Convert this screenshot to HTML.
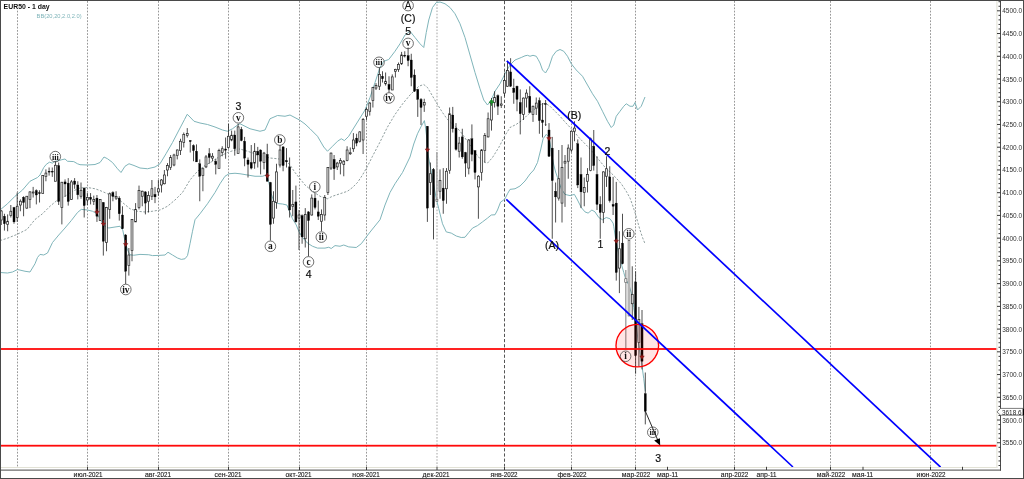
<!DOCTYPE html>
<html lang="ru"><head><meta charset="utf-8"><title>EUR50 - 1 day</title>
<style>html,body{margin:0;padding:0;background:#fff;overflow:hidden}body{width:1024px;height:479px;font-family:"Liberation Sans",sans-serif}svg text{white-space:pre}</style>
</head><body>
<svg width="1024" height="479" viewBox="0 0 1024 479" style="display:block">
<rect x="0" y="0" width="1024" height="479" fill="#ffffff"/>
<g stroke="#989898" stroke-width="1" stroke-dasharray="1.75 1.47" fill="none"><line x1="17.5" y1="1" x2="17.5" y2="466.5"/><line x1="87.5" y1="1" x2="87.5" y2="466.5"/><line x1="158.5" y1="1" x2="158.5" y2="466.5"/><line x1="228.5" y1="1" x2="228.5" y2="466.5"/><line x1="299.5" y1="1" x2="299.5" y2="466.5"/><line x1="366.5" y1="1" x2="366.5" y2="466.5"/><line x1="571.5" y1="1" x2="571.5" y2="466.5"/><line x1="635.5" y1="1" x2="635.5" y2="466.5"/><line x1="734.5" y1="1" x2="734.5" y2="466.5"/><line x1="830.5" y1="1" x2="830.5" y2="466.5"/><line x1="930.5" y1="1" x2="930.5" y2="466.5"/></g>
<line x1="504.5" y1="1" x2="504.5" y2="466.5" stroke="#555" stroke-width="1" stroke-dasharray="3.2 2"/>
<line x1="437" y1="1" x2="437" y2="466.5" stroke="#c4c4c4" stroke-width="1.5" stroke-dasharray="1.6 1.56"/>
<polyline points="0.00,210.00 7.50,203.75 15.00,196.25 22.50,190.00 30.00,181.25 37.50,177.50 40.00,175.00 43.75,167.50 46.25,164.40 49.40,162.20 52.50,163.10 55.00,161.25 58.75,160.60 61.90,159.70 65.00,159.00 67.50,161.25 73.75,161.60 77.50,163.75 80.00,164.70 87.50,165.00 95.00,164.50 100.00,162.50 104.00,157.00 107.50,158.75 112.50,162.50 117.50,168.75 121.00,172.50 125.00,166.25 129.00,163.75 134.00,165.50 140.00,168.00 147.50,168.75 155.00,167.00 160.00,163.75 166.00,153.75 172.50,142.50 179.00,130.00 184.50,119.50 187.20,114.30 190.00,117.00 194.00,121.25 200.00,123.00 207.50,124.50 215.00,127.00 222.50,130.00 227.50,131.25 232.50,128.75 237.50,125.00 240.00,123.75 250.00,128.75 260.00,131.25 265.00,130.00 270.00,118.75 277.50,115.50 285.00,116.25 290.00,115.00 299.50,120.00 305.00,124.00 310.00,128.75 317.50,136.25 323.75,147.00 327.50,151.25 332.50,146.25 337.50,141.25 341.25,138.75 344.40,140.60 348.75,136.25 352.50,130.00 358.75,120.00 362.50,114.00 365.00,110.00 370.00,97.50 375.00,82.50 380.00,67.50 383.75,61.25 388.75,59.50 395.00,51.25 400.00,43.75 405.00,35.00 410.00,31.25 415.00,37.50 420.00,43.75 423.75,47.50 426.25,32.50 428.75,20.00 432.50,7.50 436.25,2.50 440.00,2.00 445.00,3.75 450.00,7.50 455.00,13.75 460.00,23.75 465.00,37.50 470.00,55.00 475.00,72.50 480.00,88.75 483.75,100.00 487.50,105.00 491.25,100.00 495.00,91.25 500.00,83.75 505.00,73.75 510.00,65.00 515.00,60.00 521.25,57.50 525.00,55.80 527.50,55.30 530.00,56.25 533.00,55.30 536.25,56.25 538.10,59.40 540.00,63.00 542.50,70.00 545.50,73.00 548.75,67.50 552.50,56.25 556.25,51.25 560.00,49.50 563.75,51.25 567.50,56.25 571.25,63.75 576.25,70.00 582.50,76.25 587.50,85.00 592.50,93.75 597.50,101.25 602.50,111.25 607.50,121.25 611.25,127.50 613.75,125.00 616.25,116.25 620.00,111.25 623.75,106.25 626.25,103.75 630.00,106.25 633.00,106.25 635.00,102.50 637.50,110.00 641.25,106.25 645.00,97.00" fill="none" stroke="#80b5ba" stroke-width="1" stroke-linejoin="round"/>
<polyline points="0.00,272.50 7.50,273.00 12.50,272.00 17.50,269.50 25.00,271.25 30.00,272.00 35.00,263.75 37.50,257.50 40.00,254.40 43.75,255.00 47.50,253.00 52.50,242.50 58.75,235.00 65.00,228.00 71.25,220.60 77.50,212.50 81.25,209.40 87.50,210.00 92.50,211.25 97.00,213.75 100.00,218.75 103.75,225.50 108.75,228.00 115.00,227.00 120.00,226.25 122.75,230.00 125.00,241.25 127.50,250.00 130.00,254.75 133.75,255.25 140.00,254.40 148.75,254.75 152.50,255.60 158.75,255.40 165.00,255.00 168.00,252.25 172.50,255.00 177.50,258.00 181.25,259.40 185.00,258.75 187.50,255.60 190.00,243.75 192.50,231.25 195.00,219.75 200.00,213.75 207.50,203.75 215.00,192.50 220.00,183.75 225.00,176.25 229.00,173.75 235.00,173.25 240.00,173.75 247.50,175.00 255.00,176.25 262.50,176.25 266.25,175.00 268.75,182.00 271.25,193.75 273.75,201.25 277.50,203.50 282.50,204.00 286.90,205.00 289.40,211.25 292.50,218.75 296.25,225.00 298.75,231.25 302.50,237.50 307.50,243.10 312.50,246.25 317.50,248.10 325.00,248.10 328.75,247.25 331.25,248.50 335.00,245.60 340.00,246.25 343.75,245.00 348.75,246.90 356.25,247.50 361.25,243.75 365.00,238.75 367.75,235.00 372.50,229.00 380.00,219.75 385.00,205.00 390.00,192.50 395.00,183.75 402.50,172.50 410.00,157.00 413.75,144.00 417.50,133.75 421.25,126.25 424.40,120.60 425.60,128.00 426.90,138.75 428.10,154.90 430.00,165.00 433.75,185.00 436.25,198.75 438.75,208.75 442.50,223.75 446.25,231.90 451.25,233.10 456.25,236.00 461.25,237.50 465.00,237.25 468.75,232.50 472.50,228.10 477.50,225.60 482.50,221.90 487.50,218.10 491.25,215.00 495.00,214.75 497.50,210.00 500.60,202.00 503.75,200.00 505.00,198.75 507.50,193.75 510.00,189.40 515.00,188.75 520.00,186.00 525.00,181.00 530.00,174.00 533.75,170.00 537.50,162.50 540.60,150.00 543.10,138.75 546.25,134.40 548.10,136.25 550.00,142.50 551.90,155.00 553.75,165.00 555.60,172.00 557.50,177.50 561.25,188.75 565.00,194.40 570.00,195.60 574.40,194.40 577.50,200.00 581.25,207.50 585.00,211.90 588.10,213.10 591.90,210.00 595.00,211.90 598.75,217.50 602.50,219.75 606.25,217.50 610.00,218.75 613.10,223.10 613.75,226.25 615.60,238.75 618.10,251.25 621.25,263.75 623.75,272.50 625.60,278.75 629.40,286.25 631.90,295.00 633.75,307.50 635.60,320.00 638.00,340.00 641.90,365.00 643.75,378.75 645.25,391.25" fill="none" stroke="#80b5ba" stroke-width="1" stroke-linejoin="round"/>
<polyline points="0.00,240.60 8.00,238.00 17.00,234.40 27.00,229.40 35.00,219.50 42.50,213.75 50.00,206.25 57.50,200.00 65.00,196.25 72.50,191.25 80.00,188.00 87.50,187.50 95.00,188.75 100.00,190.50 107.50,193.75 115.00,196.25 122.50,202.50 130.00,208.75 137.50,211.25 145.00,212.00 152.50,211.25 160.00,210.00 167.50,206.25 175.00,200.00 182.50,192.50 190.00,180.00 197.50,171.25 205.00,165.50 212.50,161.25 220.00,156.25 227.50,152.50 235.00,150.00 240.00,149.00 247.50,151.25 255.00,153.75 262.50,156.25 270.00,158.00 277.50,158.75 285.00,160.00 290.00,165.00 295.00,172.50 300.00,178.75 305.00,185.00 312.50,191.25 320.00,196.25 327.50,198.75 332.50,196.25 340.00,193.75 347.50,191.25 352.50,187.50 357.50,182.50 362.50,175.00 367.50,166.25 372.50,156.25 380.00,142.00 387.50,127.00 395.00,114.50 402.50,104.00 410.00,95.00 418.75,86.25 423.75,84.50 427.50,87.50 432.50,96.00 437.50,104.50 442.50,112.50 447.50,119.50 452.50,124.00 460.00,131.00 467.50,141.50 475.00,152.50 480.00,158.75 485.00,162.50 487.50,163.10 492.50,157.50 498.75,147.50 505.00,135.60 510.00,127.50 516.25,124.40 522.50,120.00 527.50,115.00 532.50,111.25 537.50,106.25 542.50,103.75 546.25,103.75 550.00,106.25 555.00,111.25 560.00,116.25 565.00,122.00 572.50,130.00 580.00,138.75 587.50,146.25 595.00,155.00 600.00,161.25 606.25,168.75 611.25,173.10 616.25,178.10 621.25,183.75 626.25,191.25 630.00,198.10 632.50,205.00 635.00,212.50 637.50,221.25 640.00,230.00 642.50,237.50 644.75,243.10" fill="none" stroke="#7b8c8c" stroke-width="0.85" stroke-dasharray="2.2 1.6" stroke-linejoin="round"/>
<g stroke="#9a9a9a" stroke-width="1.3"><line x1="436.90" y1="152.00" x2="436.90" y2="201.50"/><line x1="625.80" y1="270.00" x2="625.80" y2="348.75"/></g>
<g stroke="#222" stroke-width="0.8"><line x1="1.25" y1="210.00" x2="1.25" y2="225.00"/><line x1="4.44" y1="213.75" x2="4.44" y2="230.60"/><line x1="7.63" y1="214.40" x2="7.63" y2="231.25"/><line x1="10.82" y1="205.00" x2="10.82" y2="217.50"/><line x1="14.01" y1="206.90" x2="14.01" y2="223.75"/><line x1="17.20" y1="192.50" x2="17.20" y2="221.90"/><line x1="20.39" y1="199.40" x2="20.39" y2="211.25"/><line x1="23.58" y1="196.25" x2="23.58" y2="216.25"/><line x1="26.77" y1="196.00" x2="26.77" y2="208.75"/><line x1="29.96" y1="191.25" x2="29.96" y2="208.10"/><line x1="33.15" y1="186.90" x2="33.15" y2="197.50"/><line x1="36.34" y1="189.40" x2="36.34" y2="204.40"/><line x1="39.53" y1="190.25" x2="39.53" y2="202.50"/><line x1="42.72" y1="175.00" x2="42.72" y2="193.50"/><line x1="45.91" y1="169.40" x2="45.91" y2="181.25"/><line x1="49.10" y1="167.50" x2="49.10" y2="175.60"/><line x1="52.29" y1="167.50" x2="52.29" y2="176.90"/><line x1="55.48" y1="161.25" x2="55.48" y2="181.25"/><line x1="58.67" y1="162.50" x2="58.67" y2="205.00"/><line x1="61.86" y1="181.90" x2="61.86" y2="224.40"/><line x1="65.05" y1="179.40" x2="65.05" y2="196.90"/><line x1="68.24" y1="178.10" x2="68.24" y2="205.60"/><line x1="71.43" y1="180.00" x2="71.43" y2="200.00"/><line x1="74.62" y1="178.10" x2="74.62" y2="188.75"/><line x1="77.81" y1="181.25" x2="77.81" y2="199.40"/><line x1="81.00" y1="182.50" x2="81.00" y2="198.75"/><line x1="84.19" y1="187.50" x2="84.19" y2="217.50"/><line x1="87.38" y1="193.00" x2="87.38" y2="205.00"/><line x1="90.57" y1="193.10" x2="90.57" y2="204.40"/><line x1="93.76" y1="195.60" x2="93.76" y2="205.00"/><line x1="96.95" y1="195.00" x2="96.95" y2="221.90"/><line x1="100.14" y1="199.00" x2="100.14" y2="221.00"/><line x1="103.33" y1="202.00" x2="103.33" y2="255.60"/><line x1="106.52" y1="206.90" x2="106.52" y2="251.25"/><line x1="109.71" y1="192.50" x2="109.71" y2="218.75"/><line x1="112.90" y1="191.25" x2="112.90" y2="201.25"/><line x1="116.09" y1="191.25" x2="116.09" y2="200.00"/><line x1="119.28" y1="196.25" x2="119.28" y2="220.60"/><line x1="122.47" y1="206.25" x2="122.47" y2="229.00"/><line x1="125.66" y1="234.00" x2="125.66" y2="284.00"/><line x1="128.85" y1="248.00" x2="128.85" y2="275.60"/><line x1="132.00" y1="219.00" x2="132.00" y2="261.25"/><line x1="135.60" y1="203.10" x2="135.60" y2="222.00"/><line x1="139.00" y1="185.60" x2="139.00" y2="209.40"/><line x1="142.25" y1="190.60" x2="142.25" y2="206.25"/><line x1="145.40" y1="191.25" x2="145.40" y2="214.40"/><line x1="148.50" y1="191.25" x2="148.50" y2="212.50"/><line x1="151.90" y1="180.00" x2="151.90" y2="200.00"/><line x1="155.00" y1="186.90" x2="155.00" y2="203.10"/><line x1="158.40" y1="180.00" x2="158.40" y2="195.60"/><line x1="161.50" y1="179.00" x2="161.50" y2="192.50"/><line x1="164.40" y1="170.00" x2="164.40" y2="184.40"/><line x1="167.50" y1="163.10" x2="167.50" y2="176.25"/><line x1="170.60" y1="155.00" x2="170.60" y2="170.00"/><line x1="174.00" y1="153.75" x2="174.00" y2="166.25"/><line x1="177.25" y1="149.40" x2="177.25" y2="159.40"/><line x1="180.50" y1="138.75" x2="180.50" y2="155.00"/><line x1="183.75" y1="132.50" x2="183.75" y2="147.50"/><line x1="187.25" y1="128.10" x2="187.25" y2="137.50"/><line x1="190.25" y1="140.00" x2="190.25" y2="152.50"/><line x1="193.50" y1="144.40" x2="193.50" y2="161.25"/><line x1="196.50" y1="144.40" x2="196.50" y2="162.00"/><line x1="199.75" y1="159.40" x2="199.75" y2="201.25"/><line x1="202.90" y1="167.50" x2="202.90" y2="191.25"/><line x1="206.00" y1="155.00" x2="206.00" y2="168.10"/><line x1="209.25" y1="148.10" x2="209.25" y2="163.75"/><line x1="212.50" y1="153.10" x2="212.50" y2="161.25"/><line x1="215.75" y1="158.75" x2="215.75" y2="174.40"/><line x1="219.00" y1="148.75" x2="219.00" y2="168.50"/><line x1="222.25" y1="146.25" x2="222.25" y2="156.25"/><line x1="225.60" y1="137.50" x2="225.60" y2="158.75"/><line x1="228.50" y1="123.75" x2="228.50" y2="148.75"/><line x1="231.60" y1="130.60" x2="231.60" y2="141.25"/><line x1="234.75" y1="130.60" x2="234.75" y2="155.60"/><line x1="238.10" y1="123.75" x2="238.10" y2="153.50"/><line x1="241.40" y1="126.90" x2="241.40" y2="141.25"/><line x1="244.60" y1="136.90" x2="244.60" y2="166.25"/><line x1="248.00" y1="157.50" x2="248.00" y2="177.50"/><line x1="251.25" y1="145.00" x2="251.25" y2="169.40"/><line x1="254.60" y1="143.10" x2="254.60" y2="168.75"/><line x1="257.75" y1="146.90" x2="257.75" y2="167.50"/><line x1="260.60" y1="149.40" x2="260.60" y2="174.40"/><line x1="264.00" y1="151.90" x2="264.00" y2="169.40"/><line x1="267.25" y1="143.75" x2="267.25" y2="181.50"/><line x1="270.40" y1="181.90" x2="270.40" y2="240.60"/><line x1="273.50" y1="191.25" x2="273.50" y2="223.75"/><line x1="276.50" y1="163.75" x2="276.50" y2="208.75"/><line x1="280.00" y1="145.00" x2="280.00" y2="167.50"/><line x1="283.10" y1="146.25" x2="283.10" y2="171.25"/><line x1="286.50" y1="148.10" x2="286.50" y2="167.50"/><line x1="289.60" y1="157.50" x2="289.60" y2="217.50"/><line x1="292.75" y1="190.00" x2="292.75" y2="216.25"/><line x1="295.90" y1="185.60" x2="295.90" y2="222.50"/><line x1="299.00" y1="210.00" x2="299.00" y2="250.00"/><line x1="302.10" y1="214.40" x2="302.10" y2="243.75"/><line x1="305.25" y1="208.10" x2="305.25" y2="247.50"/><line x1="308.50" y1="211.25" x2="308.50" y2="256.25"/><line x1="311.75" y1="194.40" x2="311.75" y2="215.60"/><line x1="315.00" y1="192.50" x2="315.00" y2="209.40"/><line x1="318.25" y1="200.60" x2="318.25" y2="220.00"/><line x1="321.50" y1="209.40" x2="321.50" y2="231.25"/><line x1="324.75" y1="195.00" x2="324.75" y2="220.60"/><line x1="327.90" y1="167.00" x2="327.90" y2="195.00"/><line x1="331.00" y1="152.50" x2="331.00" y2="170.00"/><line x1="334.10" y1="155.00" x2="334.10" y2="179.90"/><line x1="337.25" y1="161.90" x2="337.25" y2="170.00"/><line x1="340.40" y1="158.10" x2="340.40" y2="174.40"/><line x1="343.75" y1="160.00" x2="343.75" y2="176.25"/><line x1="347.10" y1="146.25" x2="347.10" y2="161.25"/><line x1="350.25" y1="147.50" x2="350.25" y2="155.00"/><line x1="353.40" y1="133.10" x2="353.40" y2="151.90"/><line x1="356.60" y1="133.75" x2="356.60" y2="146.25"/><line x1="359.75" y1="131.25" x2="359.75" y2="142.50"/><line x1="363.10" y1="118.00" x2="363.10" y2="154.00"/><line x1="366.50" y1="107.50" x2="366.50" y2="120.00"/><line x1="369.75" y1="101.90" x2="369.75" y2="115.60"/><line x1="372.90" y1="86.90" x2="372.90" y2="107.50"/><line x1="376.00" y1="83.10" x2="376.00" y2="90.00"/><line x1="379.40" y1="68.10" x2="379.40" y2="90.00"/><line x1="382.50" y1="71.25" x2="382.50" y2="82.50"/><line x1="385.60" y1="72.50" x2="385.60" y2="85.60"/><line x1="389.00" y1="76.25" x2="389.00" y2="92.50"/><line x1="392.25" y1="74.40" x2="392.25" y2="90.00"/><line x1="395.40" y1="68.75" x2="395.40" y2="77.50"/><line x1="398.50" y1="62.50" x2="398.50" y2="71.90"/><line x1="401.60" y1="51.90" x2="401.60" y2="65.00"/><line x1="404.75" y1="51.25" x2="404.75" y2="57.50"/><line x1="408.10" y1="47.50" x2="408.10" y2="66.25"/><line x1="411.25" y1="53.75" x2="411.25" y2="86.25"/><line x1="414.50" y1="69.40" x2="414.50" y2="91.90"/><line x1="417.75" y1="88.75" x2="417.75" y2="116.90"/><line x1="421.00" y1="98.00" x2="421.00" y2="125.00"/><line x1="424.25" y1="98.75" x2="424.25" y2="111.90"/><line x1="427.40" y1="126.00" x2="427.40" y2="221.90"/><line x1="430.40" y1="162.50" x2="430.40" y2="195.00"/><line x1="433.50" y1="168.00" x2="433.50" y2="239.40"/><line x1="440.00" y1="169.40" x2="440.00" y2="198.75"/><line x1="443.25" y1="168.10" x2="443.25" y2="213.75"/><line x1="446.50" y1="168.10" x2="446.50" y2="203.75"/><line x1="449.60" y1="107.50" x2="449.60" y2="173.75"/><line x1="452.75" y1="106.90" x2="452.75" y2="132.50"/><line x1="456.00" y1="123.10" x2="456.00" y2="150.60"/><line x1="459.20" y1="136.90" x2="459.20" y2="157.50"/><line x1="462.30" y1="128.75" x2="462.30" y2="158.75"/><line x1="465.50" y1="151.90" x2="465.50" y2="176.90"/><line x1="468.75" y1="139.00" x2="468.75" y2="174.40"/><line x1="471.90" y1="124.40" x2="471.90" y2="161.25"/><line x1="475.00" y1="150.00" x2="475.00" y2="179.40"/><line x1="478.40" y1="175.00" x2="478.40" y2="218.75"/><line x1="481.60" y1="149.00" x2="481.60" y2="180.60"/><line x1="484.80" y1="133.00" x2="484.80" y2="162.50"/><line x1="488.10" y1="112.50" x2="488.10" y2="137.50"/><line x1="491.50" y1="98.00" x2="491.50" y2="130.60"/><line x1="494.60" y1="91.25" x2="494.60" y2="107.50"/><line x1="497.90" y1="94.40" x2="497.90" y2="115.00"/><line x1="501.25" y1="96.25" x2="501.25" y2="108.00"/><line x1="504.50" y1="72.50" x2="504.50" y2="96.00"/><line x1="507.50" y1="61.25" x2="507.50" y2="86.90"/><line x1="510.60" y1="58.20" x2="510.60" y2="86.90"/><line x1="513.75" y1="78.75" x2="513.75" y2="103.75"/><line x1="517.00" y1="85.60" x2="517.00" y2="111.25"/><line x1="520.25" y1="89.40" x2="520.25" y2="134.40"/><line x1="523.50" y1="97.50" x2="523.50" y2="120.00"/><line x1="526.50" y1="89.40" x2="526.50" y2="107.50"/><line x1="529.75" y1="86.25" x2="529.75" y2="113.10"/><line x1="533.00" y1="105.60" x2="533.00" y2="121.90"/><line x1="536.25" y1="97.50" x2="536.25" y2="115.00"/><line x1="539.40" y1="97.50" x2="539.40" y2="133.75"/><line x1="542.50" y1="103.00" x2="542.50" y2="137.50"/><line x1="545.60" y1="100.00" x2="545.60" y2="125.60"/><line x1="549.00" y1="123.10" x2="549.00" y2="157.00"/><line x1="552.25" y1="136.90" x2="552.25" y2="238.75"/><line x1="555.60" y1="182.50" x2="555.60" y2="222.50"/><line x1="558.75" y1="150.00" x2="558.75" y2="200.60"/><line x1="562.00" y1="145.00" x2="562.00" y2="222.50"/><line x1="565.00" y1="155.00" x2="565.00" y2="206.90"/><line x1="568.25" y1="144.40" x2="568.25" y2="178.75"/><line x1="571.40" y1="130.60" x2="571.40" y2="152.50"/><line x1="574.50" y1="121.25" x2="574.50" y2="141.25"/><line x1="577.75" y1="139.40" x2="577.75" y2="188.10"/><line x1="581.00" y1="157.50" x2="581.00" y2="208.10"/><line x1="584.25" y1="177.50" x2="584.25" y2="206.25"/><line x1="587.50" y1="168.10" x2="587.50" y2="192.50"/><line x1="590.60" y1="137.50" x2="590.60" y2="171.25"/><line x1="593.75" y1="130.00" x2="593.75" y2="170.60"/><line x1="597.00" y1="156.25" x2="597.00" y2="210.00"/><line x1="600.25" y1="196.25" x2="600.25" y2="238.75"/><line x1="603.40" y1="171.25" x2="603.40" y2="223.10"/><line x1="606.50" y1="156.25" x2="606.50" y2="186.90"/><line x1="609.75" y1="166.25" x2="609.75" y2="202.50"/><line x1="613.10" y1="176.90" x2="613.10" y2="215.00"/><line x1="616.25" y1="181.90" x2="616.25" y2="280.60"/><line x1="619.40" y1="231.25" x2="619.40" y2="293.10"/><line x1="622.50" y1="213.75" x2="622.50" y2="264.40"/><line x1="629.00" y1="240.00" x2="629.00" y2="316.00"/><line x1="632.25" y1="266.25" x2="632.25" y2="320.00"/><line x1="635.60" y1="271.25" x2="635.60" y2="373.75"/><line x1="638.90" y1="306.90" x2="638.90" y2="366.25"/><line x1="642.00" y1="310.00" x2="642.00" y2="369.40"/><line x1="645.30" y1="372.50" x2="645.30" y2="424.40"/></g>
<g fill="#ededed" stroke="#222" stroke-width="0.7"><rect x="0.30" y="211.00" width="1.9" height="9.00"/><rect x="6.68" y="221.25" width="1.9" height="3.15"/><rect x="9.87" y="211.25" width="1.9" height="4.35"/><rect x="16.25" y="206.25" width="1.9" height="11.25"/><rect x="19.44" y="201.25" width="1.9" height="3.75"/><rect x="25.82" y="196.25" width="1.9" height="11.85"/><rect x="29.01" y="191.90" width="1.9" height="7.50"/><rect x="32.20" y="192.00" width="1.9" height="1.00"/><rect x="41.77" y="175.60" width="1.9" height="17.90"/><rect x="44.96" y="173.10" width="1.9" height="3.50"/><rect x="54.53" y="165.25" width="1.9" height="16.00"/><rect x="60.91" y="182.25" width="1.9" height="25.25"/><rect x="70.48" y="181.90" width="1.9" height="17.50"/><rect x="80.05" y="190.25" width="1.9" height="6.00"/><rect x="86.43" y="197.50" width="1.9" height="2.50"/><rect x="92.81" y="199.40" width="1.9" height="1.85"/><rect x="99.19" y="199.40" width="1.9" height="21.20"/><rect x="105.57" y="207.50" width="1.9" height="35.00"/><rect x="108.76" y="193.75" width="1.9" height="15.65"/><rect x="115.14" y="196.50" width="1.9" height="1.60"/><rect x="127.90" y="255.00" width="1.9" height="10.60"/><rect x="131.05" y="219.40" width="1.9" height="31.20"/><rect x="134.65" y="209.40" width="1.9" height="12.50"/><rect x="138.05" y="190.60" width="1.9" height="16.90"/><rect x="141.30" y="191.25" width="1.9" height="5.00"/><rect x="147.55" y="195.60" width="1.9" height="5.65"/><rect x="150.95" y="188.75" width="1.9" height="7.50"/><rect x="157.45" y="188.75" width="1.9" height="3.15"/><rect x="160.55" y="180.00" width="1.9" height="5.00"/><rect x="163.45" y="175.00" width="1.9" height="8.75"/><rect x="166.55" y="165.60" width="1.9" height="4.40"/><rect x="169.65" y="157.50" width="1.9" height="10.00"/><rect x="173.05" y="155.00" width="1.9" height="10.00"/><rect x="176.30" y="150.00" width="1.9" height="5.60"/><rect x="179.55" y="141.25" width="1.9" height="9.35"/><rect x="182.80" y="134.40" width="1.9" height="8.10"/><rect x="186.30" y="133.50" width="1.9" height="2.10"/><rect x="201.95" y="168.75" width="1.9" height="6.85"/><rect x="205.05" y="156.90" width="1.9" height="10.00"/><rect x="211.55" y="156.25" width="1.9" height="1.85"/><rect x="218.05" y="150.60" width="1.9" height="17.90"/><rect x="221.30" y="148.75" width="1.9" height="3.75"/><rect x="227.55" y="136.25" width="1.9" height="11.25"/><rect x="230.65" y="135.25" width="1.9" height="4.75"/><rect x="237.15" y="126.90" width="1.9" height="26.60"/><rect x="253.65" y="151.25" width="1.9" height="11.85"/><rect x="263.05" y="153.10" width="1.9" height="9.40"/><rect x="272.55" y="201.25" width="1.9" height="16.85"/><rect x="275.55" y="171.90" width="1.9" height="30.60"/><rect x="279.05" y="150.00" width="1.9" height="15.00"/><rect x="291.80" y="204.40" width="1.9" height="1.85"/><rect x="298.05" y="215.00" width="1.9" height="3.10"/><rect x="304.30" y="214.40" width="1.9" height="24.35"/><rect x="310.80" y="198.10" width="1.9" height="16.90"/><rect x="320.55" y="214.40" width="1.9" height="6.85"/><rect x="323.80" y="197.50" width="1.9" height="17.50"/><rect x="326.95" y="167.50" width="1.9" height="25.00"/><rect x="330.05" y="153.10" width="1.9" height="15.00"/><rect x="336.30" y="163.10" width="1.9" height="3.80"/><rect x="339.45" y="160.60" width="1.9" height="2.50"/><rect x="342.80" y="161.25" width="1.9" height="3.15"/><rect x="346.15" y="150.00" width="1.9" height="10.60"/><rect x="349.30" y="152.75" width="1.9" height="1.00"/><rect x="352.45" y="140.00" width="1.9" height="8.75"/><rect x="358.80" y="131.90" width="1.9" height="9.35"/><rect x="362.15" y="119.40" width="1.9" height="20.60"/><rect x="365.55" y="109.40" width="1.9" height="6.85"/><rect x="368.80" y="103.10" width="1.9" height="8.15"/><rect x="371.95" y="87.50" width="1.9" height="13.10"/><rect x="375.05" y="85.60" width="1.9" height="2.50"/><rect x="378.45" y="74.40" width="1.9" height="11.85"/><rect x="384.65" y="81.25" width="1.9" height="2.50"/><rect x="391.30" y="76.90" width="1.9" height="13.10"/><rect x="394.45" y="69.40" width="1.9" height="1.85"/><rect x="397.55" y="64.40" width="1.9" height="5.00"/><rect x="400.65" y="55.00" width="1.9" height="8.75"/><rect x="423.30" y="102.50" width="1.9" height="2.50"/><rect x="429.45" y="173.75" width="1.9" height="8.75"/><rect x="439.05" y="180.60" width="1.9" height="10.65"/><rect x="445.55" y="171.25" width="1.9" height="17.50"/><rect x="448.65" y="113.75" width="1.9" height="56.85"/><rect x="458.25" y="143.10" width="1.9" height="8.15"/><rect x="467.80" y="140.00" width="1.9" height="28.10"/><rect x="477.45" y="176.25" width="1.9" height="10.65"/><rect x="480.65" y="150.00" width="1.9" height="22.50"/><rect x="483.85" y="135.60" width="1.9" height="15.00"/><rect x="487.15" y="118.75" width="1.9" height="18.15"/><rect x="490.55" y="103.10" width="1.9" height="16.90"/><rect x="493.65" y="97.50" width="1.9" height="5.00"/><rect x="500.30" y="104.00" width="1.9" height="1.25"/><rect x="503.55" y="80.60" width="1.9" height="12.50"/><rect x="506.55" y="70.60" width="1.9" height="15.65"/><rect x="522.55" y="98.10" width="1.9" height="16.30"/><rect x="525.55" y="93.10" width="1.9" height="5.00"/><rect x="532.05" y="106.25" width="1.9" height="8.15"/><rect x="535.30" y="103.10" width="1.9" height="5.00"/><rect x="557.80" y="178.75" width="1.9" height="19.35"/><rect x="561.05" y="167.50" width="1.9" height="35.60"/><rect x="564.05" y="161.25" width="1.9" height="1.85"/><rect x="567.30" y="148.10" width="1.9" height="13.15"/><rect x="570.45" y="131.25" width="1.9" height="18.75"/><rect x="573.55" y="128.10" width="1.9" height="3.15"/><rect x="583.30" y="187.50" width="1.9" height="5.00"/><rect x="586.55" y="174.40" width="1.9" height="6.85"/><rect x="589.65" y="138.75" width="1.9" height="31.85"/><rect x="602.45" y="171.90" width="1.9" height="40.60"/><rect x="605.55" y="168.75" width="1.9" height="7.50"/><rect x="618.45" y="248.75" width="1.9" height="19.35"/><rect x="631.30" y="294.40" width="1.9" height="9.35"/><rect x="637.95" y="319.40" width="1.9" height="23.10"/></g>
<g fill="#fff" stroke="#555" stroke-width="0.6"><rect x="628.10" y="240.60" width="1.8" height="75.40"/></g>
<g fill="#000" stroke="#000" stroke-width="0.3"><rect x="3.39" y="216.25" width="2.1" height="7.50"/><rect x="12.96" y="207.50" width="2.1" height="14.40"/><rect x="22.53" y="197.25" width="2.1" height="5.25"/><rect x="35.29" y="190.60" width="2.1" height="4.40"/><rect x="38.48" y="192.70" width="2.1" height="0.90"/><rect x="48.05" y="171.20" width="2.1" height="0.90"/><rect x="51.24" y="171.20" width="2.1" height="0.90"/><rect x="57.62" y="165.60" width="2.1" height="35.90"/><rect x="64.00" y="181.90" width="2.1" height="2.10"/><rect x="67.19" y="183.10" width="2.1" height="18.40"/><rect x="73.57" y="181.00" width="2.1" height="3.40"/><rect x="76.76" y="185.00" width="2.1" height="9.75"/><rect x="83.14" y="188.10" width="2.1" height="17.50"/><rect x="89.52" y="197.25" width="2.1" height="2.15"/><rect x="95.90" y="198.10" width="2.1" height="18.15"/><rect x="102.28" y="202.50" width="2.1" height="38.75"/><rect x="111.85" y="192.50" width="2.1" height="4.00"/><rect x="118.23" y="198.10" width="2.1" height="15.65"/><rect x="121.42" y="215.00" width="2.1" height="13.75"/><rect x="124.61" y="235.00" width="2.1" height="36.25"/><rect x="144.35" y="191.90" width="2.1" height="11.20"/><rect x="153.95" y="194.40" width="2.1" height="2.50"/><rect x="189.20" y="140.60" width="2.1" height="1.00"/><rect x="192.45" y="145.60" width="2.1" height="5.00"/><rect x="195.45" y="151.25" width="2.1" height="10.65"/><rect x="198.70" y="163.75" width="2.1" height="12.50"/><rect x="208.20" y="153.75" width="2.1" height="3.75"/><rect x="214.70" y="161.25" width="2.1" height="3.15"/><rect x="224.55" y="149.00" width="2.1" height="1.20"/><rect x="233.70" y="135.00" width="2.1" height="13.75"/><rect x="240.35" y="129.40" width="2.1" height="11.20"/><rect x="243.55" y="141.25" width="2.1" height="16.85"/><rect x="246.95" y="160.00" width="2.1" height="4.40"/><rect x="250.20" y="162.50" width="2.1" height="5.60"/><rect x="256.70" y="151.25" width="2.1" height="3.75"/><rect x="259.55" y="150.00" width="2.1" height="11.25"/><rect x="266.20" y="154.40" width="2.1" height="26.85"/><rect x="269.35" y="182.50" width="2.1" height="41.90"/><rect x="282.05" y="146.90" width="2.1" height="18.70"/><rect x="285.45" y="160.60" width="2.1" height="1.30"/><rect x="288.55" y="166.90" width="2.1" height="43.10"/><rect x="294.85" y="201.90" width="2.1" height="20.00"/><rect x="301.05" y="215.60" width="2.1" height="21.30"/><rect x="307.45" y="211.90" width="2.1" height="8.70"/><rect x="313.95" y="198.10" width="2.1" height="9.40"/><rect x="317.20" y="211.90" width="2.1" height="4.35"/><rect x="333.05" y="159.40" width="2.1" height="9.35"/><rect x="355.55" y="138.10" width="2.1" height="5.00"/><rect x="381.45" y="76.25" width="2.1" height="2.50"/><rect x="387.95" y="84.40" width="2.1" height="5.00"/><rect x="403.70" y="55.20" width="2.1" height="0.90"/><rect x="407.05" y="55.60" width="2.1" height="5.00"/><rect x="410.20" y="60.00" width="2.1" height="17.50"/><rect x="413.45" y="75.00" width="2.1" height="16.25"/><rect x="416.70" y="89.40" width="2.1" height="10.00"/><rect x="419.95" y="99.40" width="2.1" height="8.10"/><rect x="426.35" y="126.25" width="2.1" height="81.85"/><rect x="432.45" y="169.40" width="2.1" height="38.10"/><rect x="442.20" y="188.10" width="2.1" height="12.50"/><rect x="451.70" y="115.00" width="2.1" height="13.75"/><rect x="454.95" y="128.10" width="2.1" height="21.30"/><rect x="461.25" y="136.90" width="2.1" height="20.00"/><rect x="464.45" y="152.50" width="2.1" height="10.60"/><rect x="470.85" y="138.75" width="2.1" height="15.65"/><rect x="473.95" y="150.60" width="2.1" height="21.90"/><rect x="496.85" y="95.60" width="2.1" height="10.65"/><rect x="509.55" y="71.90" width="2.1" height="14.35"/><rect x="512.70" y="88.10" width="2.1" height="4.40"/><rect x="515.95" y="86.25" width="2.1" height="13.15"/><rect x="519.20" y="102.50" width="2.1" height="11.25"/><rect x="528.70" y="96.25" width="2.1" height="16.25"/><rect x="538.35" y="100.60" width="2.1" height="20.00"/><rect x="541.45" y="120.00" width="2.1" height="2.50"/><rect x="544.55" y="103.60" width="2.1" height="0.90"/><rect x="547.95" y="130.00" width="2.1" height="26.25"/><rect x="551.20" y="148.10" width="2.1" height="32.50"/><rect x="554.55" y="191.25" width="2.1" height="5.65"/><rect x="576.70" y="143.75" width="2.1" height="41.25"/><rect x="579.95" y="174.40" width="2.1" height="17.50"/><rect x="592.70" y="146.25" width="2.1" height="19.35"/><rect x="595.95" y="174.40" width="2.1" height="30.00"/><rect x="599.20" y="204.40" width="2.1" height="8.10"/><rect x="608.70" y="176.90" width="2.1" height="23.70"/><rect x="612.05" y="204.40" width="2.1" height="1.85"/><rect x="615.20" y="203.10" width="2.1" height="69.40"/><rect x="621.45" y="243.10" width="2.1" height="20.65"/><rect x="634.55" y="281.90" width="2.1" height="73.70"/><rect x="640.95" y="323.75" width="2.1" height="37.50"/><rect x="644.25" y="393.75" width="2.1" height="17.50"/></g>
<rect x="624.7" y="278.75" width="2.2" height="3.8" fill="#eee" stroke="#555" stroke-width="0.6"/>
<rect x="435.9" y="199.2" width="2" height="2" fill="#eee" stroke="#555" stroke-width="0.6"/>
<g stroke="#8b1a1a" stroke-width="1" fill="#8b1a1a"><path d="M96.95 208.75V212.75" fill="none"/><path d="M94.65 211.15L96.95 214.15L99.25 211.15Z" stroke-width="0.4"/><path d="M103.33 220.00V224.60" fill="none"/><path d="M101.03 223.00L103.33 226.00L105.63 223.00Z" stroke-width="0.4"/><path d="M125.66 240.00V245.00" fill="none"/><path d="M123.36 243.40L125.66 246.40L127.96 243.40Z" stroke-width="0.4"/><path d="M267.25 173.00V176.50" fill="none"/><path d="M264.95 174.90L267.25 177.90L269.55 174.90Z" stroke-width="0.4"/><path d="M427.40 147.50V150.50" fill="none"/><path d="M425.10 148.90L427.40 151.90L429.70 148.90Z" stroke-width="0.4"/><path d="M549.00 135.60V139.20" fill="none"/><path d="M546.70 137.60L549.00 140.60L551.30 137.60Z" stroke-width="0.4"/><path d="M616.25 238.75V241.80" fill="none"/><path d="M613.95 240.20L616.25 243.20L618.55 240.20Z" stroke-width="0.4"/><path d="M642.00 354.50V357.50" fill="none"/><path d="M639.70 355.90L642.00 358.90L644.30 355.90Z" stroke-width="0.4"/></g>
<path d="M491.5 100V105.8M489.2 102.6H493.8M489.5 102.4L491.5 99.6L493.5 102.4Z" stroke="#1d8a2a" stroke-width="1" fill="#1d8a2a"/>
<path d="M544.6 124.4H546.8L545.7 126Z" fill="#333"/>
<circle cx="637.3" cy="345.6" r="21.3" fill="#ff0000" fill-opacity="0.10" stroke="#ff0000" stroke-width="1.35"/>
<rect x="1" y="348.1" width="996.2" height="1.8" fill="#ff0a0a"/>
<rect x="1" y="444.8" width="996.2" height="1.8" fill="#ff0a0a"/>
<line x1="506.8" y1="60.9" x2="940.56" y2="467.2" stroke="#0000ff" stroke-width="1.7"/>
<line x1="506.3" y1="199.4" x2="792.93" y2="467" stroke="#0000ff" stroke-width="1.7"/>
<line x1="645.4" y1="411.3" x2="658.6" y2="442" stroke="#111" stroke-width="0.9"/>
<path d="M660.2 445.4L654.2 440.6L659.9 438.2Z" fill="#000"/>
<circle cx="55.3" cy="156.6" r="5.3" fill="none" stroke="#333" stroke-width="0.7"/><text x="55.3" y="159.6" font-family="&quot;Liberation Serif&quot;,serif" font-size="8.2" font-weight="bold" text-anchor="middle" fill="#111">iii</text>
<circle cx="125.8" cy="289.5" r="5.3" fill="none" stroke="#333" stroke-width="0.7"/><text x="125.8" y="292.5" font-family="&quot;Liberation Serif&quot;,serif" font-size="9.4" font-weight="bold" text-anchor="middle" fill="#111">iv</text>
<circle cx="238.4" cy="117.8" r="5.3" fill="none" stroke="#333" stroke-width="0.7"/><text x="238.4" y="120.8" font-family="&quot;Liberation Serif&quot;,serif" font-size="9.4" font-weight="bold" text-anchor="middle" fill="#111">v</text>
<circle cx="279.8" cy="140" r="5.3" fill="none" stroke="#333" stroke-width="0.7"/><text x="279.8" y="143.0" font-family="&quot;Liberation Serif&quot;,serif" font-size="9.4" font-weight="bold" text-anchor="middle" fill="#111">b</text>
<circle cx="270.4" cy="246.3" r="5.3" fill="none" stroke="#333" stroke-width="0.7"/><text x="270.4" y="249.3" font-family="&quot;Liberation Serif&quot;,serif" font-size="9.4" font-weight="bold" text-anchor="middle" fill="#111">a</text>
<circle cx="308.5" cy="261.9" r="5.3" fill="none" stroke="#333" stroke-width="0.7"/><text x="308.5" y="264.9" font-family="&quot;Liberation Serif&quot;,serif" font-size="9.4" font-weight="bold" text-anchor="middle" fill="#111">c</text>
<circle cx="314.8" cy="186.9" r="5.3" fill="none" stroke="#333" stroke-width="0.7"/><text x="314.8" y="189.9" font-family="&quot;Liberation Serif&quot;,serif" font-size="9.4" font-weight="bold" text-anchor="middle" fill="#111">i</text>
<circle cx="321.3" cy="237.1" r="5.3" fill="none" stroke="#333" stroke-width="0.7"/><text x="321.3" y="240.1" font-family="&quot;Liberation Serif&quot;,serif" font-size="9.4" font-weight="bold" text-anchor="middle" fill="#111">ii</text>
<circle cx="379" cy="62.3" r="5.3" fill="none" stroke="#333" stroke-width="0.7"/><text x="379" y="65.3" font-family="&quot;Liberation Serif&quot;,serif" font-size="8.2" font-weight="bold" text-anchor="middle" fill="#111">iii</text>
<circle cx="389" cy="98" r="5.3" fill="none" stroke="#333" stroke-width="0.7"/><text x="389" y="101.0" font-family="&quot;Liberation Serif&quot;,serif" font-size="9.4" font-weight="bold" text-anchor="middle" fill="#111">iv</text>
<circle cx="408.1" cy="43.4" r="5.3" fill="none" stroke="#333" stroke-width="0.7"/><text x="408.1" y="46.4" font-family="&quot;Liberation Serif&quot;,serif" font-size="9.4" font-weight="bold" text-anchor="middle" fill="#111">v</text>
<circle cx="628.8" cy="233.8" r="5.3" fill="none" stroke="#333" stroke-width="0.7"/><text x="628.8" y="236.8" font-family="&quot;Liberation Serif&quot;,serif" font-size="9.4" font-weight="bold" text-anchor="middle" fill="#111">ii</text>
<circle cx="625.6" cy="356.3" r="5.3" fill="none" stroke="#333" stroke-width="0.7"/><text x="625.6" y="359.3" font-family="&quot;Liberation Serif&quot;,serif" font-size="9.4" font-weight="bold" text-anchor="middle" fill="#111">i</text>
<circle cx="652.8" cy="432.3" r="5.3" fill="none" stroke="#333" stroke-width="0.7"/><text x="652.8" y="435.3" font-family="&quot;Liberation Serif&quot;,serif" font-size="8.2" font-weight="bold" text-anchor="middle" fill="#111">iii</text>
<circle cx="408.1" cy="5.6" r="5.3" fill="none" stroke="#333" stroke-width="0.7"/><text x="408.1" y="9.2" font-family="&quot;Liberation Sans&quot;,sans-serif" font-size="10" font-weight="normal" text-anchor="middle" fill="#111">A</text>
<text x="408.1" y="21.6" font-family="&quot;Liberation Sans&quot;,sans-serif" font-size="10.5" text-anchor="middle" fill="#111" stroke="#111" stroke-width="0.2">(C)</text>
<text x="408.1" y="34.5" font-family="&quot;Liberation Sans&quot;,sans-serif" font-size="10.5" text-anchor="middle" fill="#111" stroke="#111" stroke-width="0.2">5</text>
<text x="238.4" y="109.6" font-family="&quot;Liberation Sans&quot;,sans-serif" font-size="10.5" text-anchor="middle" fill="#111" stroke="#111" stroke-width="0.2">3</text>
<text x="308.6" y="278.2" font-family="&quot;Liberation Sans&quot;,sans-serif" font-size="10.5" text-anchor="middle" fill="#111" stroke="#111" stroke-width="0.2">4</text>
<text x="574.3" y="118.8" font-family="&quot;Liberation Sans&quot;,sans-serif" font-size="10.5" text-anchor="middle" fill="#111" stroke="#111" stroke-width="0.2">(B)</text>
<text x="607.5" y="154.5" font-family="&quot;Liberation Sans&quot;,sans-serif" font-size="10.5" text-anchor="middle" fill="#111" stroke="#111" stroke-width="0.2">2</text>
<text x="552" y="249.4" font-family="&quot;Liberation Sans&quot;,sans-serif" font-size="10.5" text-anchor="middle" fill="#111" stroke="#111" stroke-width="0.2">(A)</text>
<text x="600.3" y="248.2" font-family="&quot;Liberation Sans&quot;,sans-serif" font-size="10.5" text-anchor="middle" fill="#111" stroke="#111" stroke-width="0.2">1</text>
<text x="658.2" y="462" font-family="&quot;Liberation Sans&quot;,sans-serif" font-size="10.5" text-anchor="middle" fill="#111" stroke="#111" stroke-width="0.2">3</text>
<rect x="1" y="1" width="50" height="8.6" fill="#fff"/>
<text x="3.6" y="9.0" font-family="&quot;Liberation Sans&quot;,sans-serif" font-size="7.4" font-weight="bold" fill="#111" textLength="46" lengthAdjust="spacingAndGlyphs">EUR50 - 1 day</text>
<text x="36.6" y="18.3" font-family="&quot;Liberation Sans&quot;,sans-serif" font-size="5.9" fill="#80b5ba" textLength="45" lengthAdjust="spacingAndGlyphs">BB(20,20,2.0,2.0)</text>
<rect x="1" y="467" width="996.5" height="1" fill="#e2e2d6"/>
<rect x="996.3" y="1" width="1.2" height="467" fill="#e6e6dc"/>
<rect x="0" y="469.6" width="1001" height="1" fill="#4a4a4a"/>
<rect x="1000" y="0" width="1" height="470.6" fill="#4a4a4a"/>
<g stroke="#3c3c3c" stroke-width="1"><line x1="998.5" y1="1.71" x2="1000.5" y2="1.71"/><line x1="998.5" y1="6.25" x2="1000.5" y2="6.25"/><line x1="997" y1="10.80" x2="1000.5" y2="10.80"/><line x1="998.5" y1="15.35" x2="1000.5" y2="15.35"/><line x1="998.5" y1="19.89" x2="1000.5" y2="19.89"/><line x1="998.5" y1="24.44" x2="1000.5" y2="24.44"/><line x1="998.5" y1="28.99" x2="1000.5" y2="28.99"/><line x1="997" y1="33.53" x2="1000.5" y2="33.53"/><line x1="998.5" y1="38.08" x2="1000.5" y2="38.08"/><line x1="998.5" y1="42.63" x2="1000.5" y2="42.63"/><line x1="998.5" y1="47.18" x2="1000.5" y2="47.18"/><line x1="998.5" y1="51.72" x2="1000.5" y2="51.72"/><line x1="997" y1="56.27" x2="1000.5" y2="56.27"/><line x1="998.5" y1="60.82" x2="1000.5" y2="60.82"/><line x1="998.5" y1="65.36" x2="1000.5" y2="65.36"/><line x1="998.5" y1="69.91" x2="1000.5" y2="69.91"/><line x1="998.5" y1="74.46" x2="1000.5" y2="74.46"/><line x1="997" y1="79.00" x2="1000.5" y2="79.00"/><line x1="998.5" y1="83.55" x2="1000.5" y2="83.55"/><line x1="998.5" y1="88.10" x2="1000.5" y2="88.10"/><line x1="998.5" y1="92.65" x2="1000.5" y2="92.65"/><line x1="998.5" y1="97.19" x2="1000.5" y2="97.19"/><line x1="997" y1="101.74" x2="1000.5" y2="101.74"/><line x1="998.5" y1="106.29" x2="1000.5" y2="106.29"/><line x1="998.5" y1="110.83" x2="1000.5" y2="110.83"/><line x1="998.5" y1="115.38" x2="1000.5" y2="115.38"/><line x1="998.5" y1="119.93" x2="1000.5" y2="119.93"/><line x1="997" y1="124.47" x2="1000.5" y2="124.47"/><line x1="998.5" y1="129.02" x2="1000.5" y2="129.02"/><line x1="998.5" y1="133.57" x2="1000.5" y2="133.57"/><line x1="998.5" y1="138.12" x2="1000.5" y2="138.12"/><line x1="998.5" y1="142.66" x2="1000.5" y2="142.66"/><line x1="997" y1="147.21" x2="1000.5" y2="147.21"/><line x1="998.5" y1="151.76" x2="1000.5" y2="151.76"/><line x1="998.5" y1="156.30" x2="1000.5" y2="156.30"/><line x1="998.5" y1="160.85" x2="1000.5" y2="160.85"/><line x1="998.5" y1="165.40" x2="1000.5" y2="165.40"/><line x1="997" y1="169.95" x2="1000.5" y2="169.95"/><line x1="998.5" y1="174.49" x2="1000.5" y2="174.49"/><line x1="998.5" y1="179.04" x2="1000.5" y2="179.04"/><line x1="998.5" y1="183.59" x2="1000.5" y2="183.59"/><line x1="998.5" y1="188.13" x2="1000.5" y2="188.13"/><line x1="997" y1="192.68" x2="1000.5" y2="192.68"/><line x1="998.5" y1="197.23" x2="1000.5" y2="197.23"/><line x1="998.5" y1="201.77" x2="1000.5" y2="201.77"/><line x1="998.5" y1="206.32" x2="1000.5" y2="206.32"/><line x1="998.5" y1="210.87" x2="1000.5" y2="210.87"/><line x1="997" y1="215.42" x2="1000.5" y2="215.42"/><line x1="998.5" y1="219.96" x2="1000.5" y2="219.96"/><line x1="998.5" y1="224.51" x2="1000.5" y2="224.51"/><line x1="998.5" y1="229.06" x2="1000.5" y2="229.06"/><line x1="998.5" y1="233.60" x2="1000.5" y2="233.60"/><line x1="997" y1="238.15" x2="1000.5" y2="238.15"/><line x1="998.5" y1="242.70" x2="1000.5" y2="242.70"/><line x1="998.5" y1="247.24" x2="1000.5" y2="247.24"/><line x1="998.5" y1="251.79" x2="1000.5" y2="251.79"/><line x1="998.5" y1="256.34" x2="1000.5" y2="256.34"/><line x1="997" y1="260.88" x2="1000.5" y2="260.88"/><line x1="998.5" y1="265.43" x2="1000.5" y2="265.43"/><line x1="998.5" y1="269.98" x2="1000.5" y2="269.98"/><line x1="998.5" y1="274.53" x2="1000.5" y2="274.53"/><line x1="998.5" y1="279.07" x2="1000.5" y2="279.07"/><line x1="997" y1="283.62" x2="1000.5" y2="283.62"/><line x1="998.5" y1="288.17" x2="1000.5" y2="288.17"/><line x1="998.5" y1="292.71" x2="1000.5" y2="292.71"/><line x1="998.5" y1="297.26" x2="1000.5" y2="297.26"/><line x1="998.5" y1="301.81" x2="1000.5" y2="301.81"/><line x1="997" y1="306.36" x2="1000.5" y2="306.36"/><line x1="998.5" y1="310.90" x2="1000.5" y2="310.90"/><line x1="998.5" y1="315.45" x2="1000.5" y2="315.45"/><line x1="998.5" y1="320.00" x2="1000.5" y2="320.00"/><line x1="998.5" y1="324.54" x2="1000.5" y2="324.54"/><line x1="997" y1="329.09" x2="1000.5" y2="329.09"/><line x1="998.5" y1="333.64" x2="1000.5" y2="333.64"/><line x1="998.5" y1="338.18" x2="1000.5" y2="338.18"/><line x1="998.5" y1="342.73" x2="1000.5" y2="342.73"/><line x1="998.5" y1="347.28" x2="1000.5" y2="347.28"/><line x1="997" y1="351.82" x2="1000.5" y2="351.82"/><line x1="998.5" y1="356.37" x2="1000.5" y2="356.37"/><line x1="998.5" y1="360.92" x2="1000.5" y2="360.92"/><line x1="998.5" y1="365.47" x2="1000.5" y2="365.47"/><line x1="998.5" y1="370.01" x2="1000.5" y2="370.01"/><line x1="997" y1="374.56" x2="1000.5" y2="374.56"/><line x1="998.5" y1="379.11" x2="1000.5" y2="379.11"/><line x1="998.5" y1="383.65" x2="1000.5" y2="383.65"/><line x1="998.5" y1="388.20" x2="1000.5" y2="388.20"/><line x1="998.5" y1="392.75" x2="1000.5" y2="392.75"/><line x1="997" y1="397.30" x2="1000.5" y2="397.30"/><line x1="998.5" y1="401.84" x2="1000.5" y2="401.84"/><line x1="998.5" y1="406.39" x2="1000.5" y2="406.39"/><line x1="998.5" y1="410.94" x2="1000.5" y2="410.94"/><line x1="998.5" y1="415.48" x2="1000.5" y2="415.48"/><line x1="997" y1="420.03" x2="1000.5" y2="420.03"/><line x1="998.5" y1="424.58" x2="1000.5" y2="424.58"/><line x1="998.5" y1="429.12" x2="1000.5" y2="429.12"/><line x1="998.5" y1="433.67" x2="1000.5" y2="433.67"/><line x1="998.5" y1="438.22" x2="1000.5" y2="438.22"/><line x1="997" y1="442.76" x2="1000.5" y2="442.76"/><line x1="998.5" y1="447.31" x2="1000.5" y2="447.31"/><line x1="998.5" y1="451.86" x2="1000.5" y2="451.86"/><line x1="998.5" y1="456.41" x2="1000.5" y2="456.41"/><line x1="998.5" y1="460.95" x2="1000.5" y2="460.95"/><line x1="998.5" y1="465.50" x2="1000.5" y2="465.50"/></g>
<g font-family="&quot;Liberation Sans&quot;,sans-serif" font-size="6.5" fill="#333"><text x="1002.2" y="13.30">4500.0</text><text x="1002.2" y="36.03">4450.0</text><text x="1002.2" y="58.77">4400.0</text><text x="1002.2" y="81.50">4350.0</text><text x="1002.2" y="104.24">4300.0</text><text x="1002.2" y="126.97">4250.0</text><text x="1002.2" y="149.71">4200.0</text><text x="1002.2" y="172.45">4150.0</text><text x="1002.2" y="195.18">4100.0</text><text x="1002.2" y="217.92">4050.0</text><text x="1002.2" y="240.65">4000.0</text><text x="1002.2" y="263.38">3950.0</text><text x="1002.2" y="286.12">3900.0</text><text x="1002.2" y="308.86">3850.0</text><text x="1002.2" y="331.59">3800.0</text><text x="1002.2" y="354.32">3750.0</text><text x="1002.2" y="377.06">3700.0</text><text x="1002.2" y="399.80">3650.0</text><text x="1002.2" y="422.53">3600.0</text><text x="1002.2" y="445.26">3550.0</text></g>
<path d="M997 411.9L1000.5 408.4H1023.4V415.2H1000.5Z" fill="#fff" stroke="#444" stroke-width="0.7"/>
<text x="1002" y="414.5" font-family="&quot;Liberation Sans&quot;,sans-serif" font-size="6.4" fill="#222">3618.6</text>
<g stroke="#3c3c3c" stroke-width="1"><line x1="87.5" y1="466.8" x2="87.5" y2="470"/><line x1="158.5" y1="466.8" x2="158.5" y2="470"/><line x1="228.5" y1="466.8" x2="228.5" y2="470"/><line x1="299.5" y1="466.8" x2="299.5" y2="470"/><line x1="366.5" y1="466.8" x2="366.5" y2="470"/><line x1="571.5" y1="466.8" x2="571.5" y2="470"/><line x1="635.5" y1="466.8" x2="635.5" y2="470"/><line x1="734.5" y1="466.8" x2="734.5" y2="470"/><line x1="830.5" y1="466.8" x2="830.5" y2="470"/><line x1="930.5" y1="466.8" x2="930.5" y2="470"/><line x1="504.5" y1="466.8" x2="504.5" y2="470"/><line x1="437" y1="466.8" x2="437" y2="470"/><line x1="667.5" y1="466.8" x2="667.5" y2="470"/><line x1="766.5" y1="466.8" x2="766.5" y2="470"/><line x1="863" y1="466.8" x2="863" y2="470"/><line x1="962.5" y1="466.8" x2="962.5" y2="470"/></g>
<g font-family="&quot;Liberation Sans&quot;,sans-serif" font-size="6.25" fill="#1a1a1a" stroke="#1a1a1a" stroke-width="0.12"><text transform="translate(88,476.9) scale(1,1.17)" text-anchor="middle"><tspan font-size="6.9">июл</tspan>-2021</text><text transform="translate(158,476.9) scale(1,1.17)" text-anchor="middle"><tspan font-size="6.9">авг</tspan>-2021</text><text transform="translate(228,476.9) scale(1,1.17)" text-anchor="middle"><tspan font-size="6.9">сен</tspan>-2021</text><text transform="translate(298.5,476.9) scale(1,1.17)" text-anchor="middle"><tspan font-size="6.9">окт</tspan>-2021</text><text transform="translate(366,476.9) scale(1,1.17)" text-anchor="middle"><tspan font-size="6.9">ноя</tspan>-2021</text><text transform="translate(436,476.9) scale(1,1.17)" text-anchor="middle"><tspan font-size="6.9">дек</tspan>-2021</text><text transform="translate(504,476.9) scale(1,1.17)" text-anchor="middle"><tspan font-size="6.9">янв</tspan>-2022</text><text transform="translate(572,476.9) scale(1,1.17)" text-anchor="middle"><tspan font-size="6.9">фев</tspan>-2022</text><text transform="translate(636,476.9) scale(1,1.17)" text-anchor="middle"><tspan font-size="6.9">мар</tspan>-2022</text><text transform="translate(667.5,476.9) scale(1,1.17)" text-anchor="middle"><tspan font-size="6.9">мар</tspan>-11</text><text transform="translate(734.5,476.9) scale(1,1.17)" text-anchor="middle"><tspan font-size="6.9">апр</tspan>-2022</text><text transform="translate(766.5,476.9) scale(1,1.17)" text-anchor="middle"><tspan font-size="6.9">апр</tspan>-11</text><text transform="translate(831,476.9) scale(1,1.17)" text-anchor="middle"><tspan font-size="6.9">май</tspan>-2022</text><text transform="translate(862.5,476.9) scale(1,1.17)" text-anchor="middle"><tspan font-size="6.9">мая</tspan>-11</text><text transform="translate(931,476.9) scale(1,1.17)" text-anchor="middle"><tspan font-size="6.9">июн</tspan>-2022</text></g>
<rect x="0" y="0" width="1024" height="1" fill="#4a4a4a"/>
<rect x="0" y="0" width="1" height="479" fill="#4a4a4a"/>
<rect x="0" y="478" width="1024" height="1" fill="#4a4a4a"/>
<rect x="1023" y="0" width="1" height="479" fill="#4a4a4a"/>
<rect x="1022.7" y="408.8" width="1.3" height="6.4" fill="#000"/>
</svg>
</body></html>
